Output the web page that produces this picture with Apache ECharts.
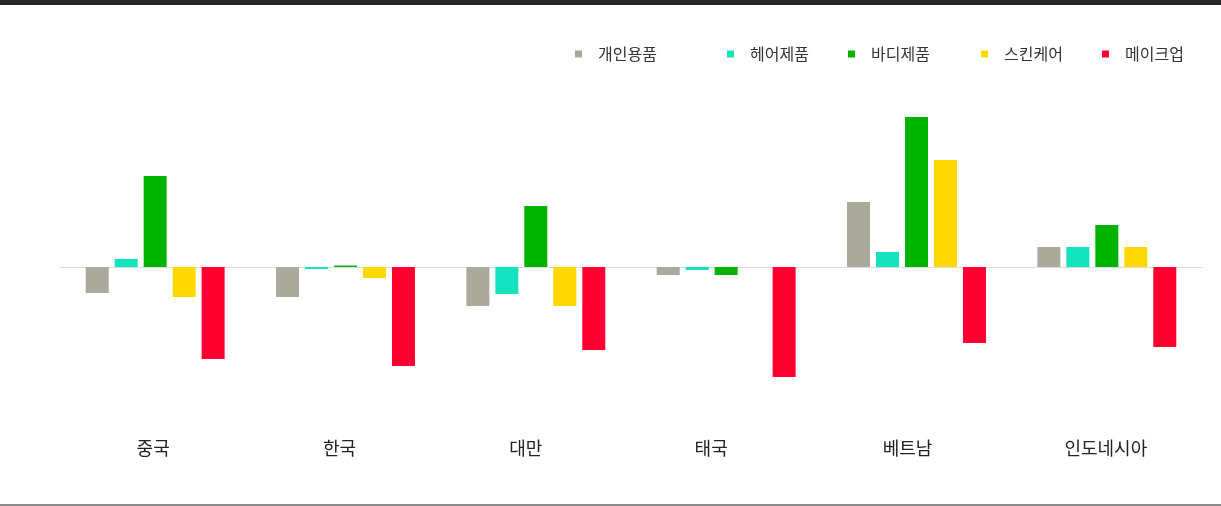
<!DOCTYPE html>
<html>
<head>
<meta charset="utf-8">
<script src="https://cdn.jsdelivr.net/npm/echarts@6/dist/echarts.min.js"></script>
<style>
html,body{margin:0;padding:0;background:#fff;}
#chart{width:1221px;height:506px;}
</style>
</head>
<body>
<div id="chart"></div>
<script>
var categories = ['중국', '한국', '대만', '태국', '베트남', '인도네시아'];
var seriesNames = ['개인용품', '헤어제품', '바디제품', '스킨케어', '메이크업'];
var personalCare = [-26, -30, -39, -8, 65, 20];
var hairCare     = [8, -2, -27, -3, 15, 20];
var bodyCare     = [91, 1.5, 61, -8, 150, 42];
var skinCare     = [-30, -11, -39, 0, 107, 20];
var makeup       = [-92, -99, -83, -110, -76, -80];
var seriesData = [personalCare, hairCare, bodyCare, skinCare, makeup];

var colors = ['#a9a99c', '#14e3bf', '#00b300', '#ffd800', '#ff0030'];
var legendLeft = [570, 722, 843, 976, 1097];
var labelShift = [2, 6, 10, 15, 9, 1];

var chart = echarts.init(document.getElementById('chart'), null, {renderer: 'canvas'});

var legends = seriesNames.map(function (n, i) {
  return {
    data: [n],
    left: legendLeft[i],
    top: 41,
    icon: 'rect',
    itemWidth: 7,
    itemHeight: 7,
    selectedMode: false,
    textStyle: {
      fontSize: 16,
      color: '#333',
      fontFamily: 'Noto Sans CJK KR',
      padding: [0, 0, 0, 11]
    }
  };
});

var rich = {};
labelShift.forEach(function (s, i) {
  rich['c' + i] = {
    fontSize: 18,
    color: '#222',
    fontFamily: 'Noto Sans CJK KR',
    padding: [0, 2 * s, 0, 0]
  };
});

var option = {
  backgroundColor: '#fff',
  animation: false,
  color: colors,
  legend: legends,
  grid: {left: 60, right: 19, top: 100, bottom: 86, containLabel: false},
  xAxis: [
    {
      type: 'category',
      data: categories,
      axisLine: {show: true, onZero: true, lineStyle: {color: '#dcdcdc', width: 1}},
      axisTick: {show: false},
      axisLabel: {show: false},
      splitLine: {show: false}
    },
    {
      type: 'category',
      data: categories,
      position: 'bottom',
      axisLine: {show: false, onZero: false},
      axisTick: {show: false},
      axisLabel: {
        show: true,
        margin: 19,
        fontSize: 18,
        color: '#222',
        fontFamily: 'Noto Sans CJK KR',
        formatter: function (v, idx) { return '{c' + idx + '|' + v + '}'; },
        rich: rich
      },
      splitLine: {show: false}
    }
  ],
  yAxis: {
    type: 'value',
    min: -153,
    max: 167,
    show: false,
    splitLine: {show: false}
  },
  graphic: [
    {type: 'rect', left: 0, top: 0, shape: {width: 1221, height: 5}, style: {fill: '#262626'}, silent: true},
    {type: 'rect', left: 0, top: 504, shape: {width: 1221, height: 2}, style: {fill: '#8c8c8c'}, silent: true}
  ],
  series: seriesNames.map(function (n, i) {
    return {
      name: n,
      type: 'bar',
      xAxisIndex: 0,
      data: seriesData[i],
      barWidth: 23,
      barGap: '26%',
      itemStyle: {color: colors[i]}
    };
  })
};
chart.setOption(option);
</script>
</body>
</html>
